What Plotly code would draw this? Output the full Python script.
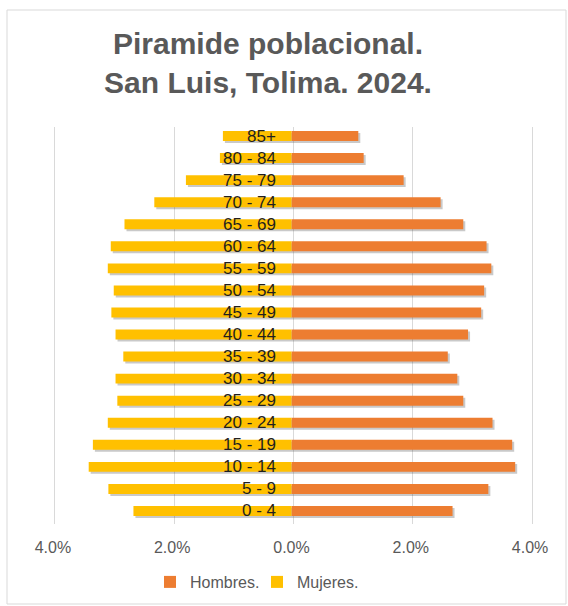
import plotly.graph_objects as go

categories = ["0 - 4", "5 - 9", "10 - 14", "15 - 19", "20 - 24", "25 - 29", "30 - 34",
              "35 - 39", "40 - 44", "45 - 49", "50 - 54", "55 - 59", "60 - 64",
              "65 - 69", "70 - 74", "75 - 79", "80 - 84", "85+"]
hombres = [2.70, 3.30, 3.75, 3.70, 3.37, 2.88, 2.78, 2.62, 2.96, 3.18, 3.23, 3.35,
           3.27, 2.88, 2.50, 1.88, 1.21, 1.12]
mujeres = [2.65, 3.07, 3.40, 3.33, 3.08, 2.92, 2.95, 2.82, 2.95, 3.02, 2.98, 3.08,
           3.03, 2.80, 2.30, 1.77, 1.20, 1.15]
tick_vals = [-4, -2, 0, 2, 4]
tick_text = ["4.0%", "2.0%", "0.0%", "2.0%", "4.0%"]

W, H = 568, 606
L, R, T, B = 38, 21, 125, 82
PW, PH = W - L - R, H - T - B

def px_x(p):
    return (p - L) / PW

def px_y(p):
    return (H - B - p) / PH

ORANGE = "#ED7D31"
YELLOW = "#FFC000"
SHADOW = "rgba(60,60,60,0.28)"
mujeres_neg = [-v for v in mujeres]

fig = go.Figure()

sh_dx = 2 / PW
sh_dy = 2 / PH
for vals in (hombres, mujeres_neg):
    fig.add_trace(go.Bar(y=categories, x=vals, orientation="h", marker_color=SHADOW,
                         marker_line_width=0, showlegend=False, hoverinfo="skip",
                         xaxis="x", yaxis="y"))

fig.add_trace(go.Bar(y=categories, x=hombres, orientation="h", name="Hombres.",
                     marker_color=ORANGE, marker_line_width=0,
                     xaxis="x2", yaxis="y2"))
fig.add_trace(go.Bar(y=categories, x=mujeres_neg, orientation="h", name="Mujeres.",
                     marker_color=YELLOW, marker_line_width=0,
                     customdata=mujeres, hovertemplate="%{y}: %{customdata:.2f}%<extra>Mujeres.</extra>",
                     xaxis="x2", yaxis="y2"))

xr = [-4.25, 4.25]
yr = [-0.5, len(categories) - 0.5]

common_x = dict(range=xr, tickvals=tick_vals, ticktext=tick_text, zeroline=False,
                showline=False, ticks="", automargin=False)
fig.update_layout(
    width=W, height=H,
    margin=dict(l=L, r=R, t=T, b=B, autoexpand=False),
    paper_bgcolor="white", plot_bgcolor="rgba(0,0,0,0)",
    barmode="overlay", bargap=0.55,
    font=dict(family="Liberation Sans, Arial, sans-serif", color="#595959"),
    xaxis=dict(domain=[sh_dx, 1], showgrid=True, gridcolor="#d9d9d9", gridwidth=1,
               showticklabels=False, **common_x),
    yaxis=dict(domain=[0, 1 - sh_dy], range=yr, showticklabels=False, showgrid=False,
               zeroline=False, type="category", automargin=False),
    xaxis2=dict(domain=[0, 1 - sh_dx], anchor="y2", showgrid=False,
                showticklabels=True, tickfont=dict(size=16, color="#595959"),
                ticklabelstandoff=14, **common_x),
    yaxis2=dict(domain=[sh_dy, 1], anchor="x2", range=yr, showticklabels=False,
                showgrid=False, zeroline=False, type="category", automargin=False),
    title=dict(text="<b>Piramide poblacional.<br>San Luis, Tolima. 2024.</b>",
               font=dict(size=30, color="#595959"),
               x=268 / W, xanchor="center", xref="container",
               y=1 - 54 / H, yanchor="top", yref="container"),
    legend=dict(orientation="h", x=257 / W, xanchor="center", xref="container",
                y=1 - 582 / H, yanchor="middle", yref="container",
                font=dict(size=16, color="#595959"), traceorder="normal",
                itemwidth=30, entrywidth=62, entrywidthmode="pixels"),
    showlegend=True,
)

for c in categories:
    fig.add_annotation(x=0, y=c, xref="x2", yref="y2", text=c, showarrow=False,
                       xanchor="right", yanchor="middle", xshift=-14,
                       font=dict(size=17, color="#1f1f1f"))

fig.add_shape(type="rect", xref="paper", yref="paper",
              x0=px_x(7), x1=px_x(566), y0=px_y(604), y1=px_y(10),
              line=dict(color="#d9d9d9", width=1), fillcolor="rgba(0,0,0,0)", layer="below")

fig.write_html("out.html", config={"displayModeBar": False},
               post_script="document.body.style.margin='0';")
